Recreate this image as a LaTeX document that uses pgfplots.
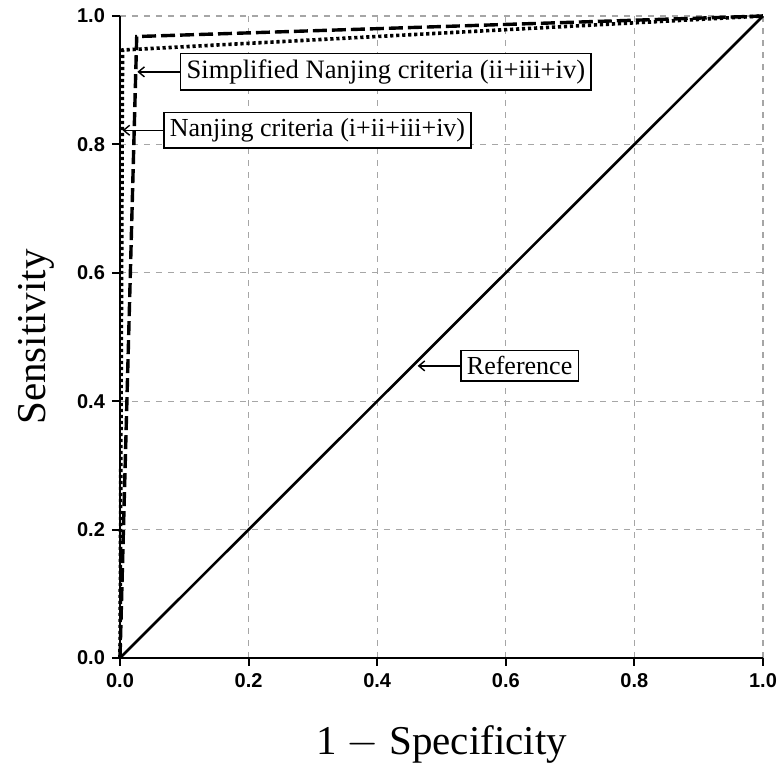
\documentclass[border=0pt]{standalone}
\usepackage{fontspec}
\setmainfont{Liberation Serif}
\newfontfamily\tickfont{Liberation Sans}
\usepackage{pgfplots}
\pgfplotsset{compat=1.18}
\usetikzlibrary{arrows.meta}

\begin{document}
\begin{tikzpicture}
\begin{axis}[
  scale only axis,
  width=321.5pt,
  height=321pt,
  xmin=0, xmax=1, ymin=0, ymax=1,
  axis lines=left,
  axis line style={-, line width=1pt},
  xtick={0,0.2,...,1}, ytick={0,0.2,...,1},
  tick align=outside,
  major tick length=4pt,
  tick style={line width=1pt, black},
  grid=major,
  grid style={gray!70, dashed, line width=0.6pt},
  /pgf/number format/.cd, fixed, fixed zerofill, precision=1, assume math mode=true,
  /pgfplots/.cd,
  tick label style={font=\tickfont\bfseries\fontsize{10}{12}\selectfont},
  xlabel={1 $-$ Specificity},
  ylabel={Sensitivity},
  label style={font=\fontsize{20.5}{24}\selectfont},
  xlabel style={at={(axis description cs:0.5,-0.135)}, anchor=center},
  ylabel style={at={(axis description cs:-0.13,0.5)}, anchor=center},
  clip=false,
]
% Reference diagonal
\addplot[black, line width=1.3pt] coordinates {(0,0) (1,1)};
% Nanjing criteria (i+ii+iii+iv)
\addplot[black, line width=1.8pt, dash pattern=on 1.6pt off 1.4pt] coordinates {(0,0) (0.004,0.947) (1,1)};
% Simplified Nanjing criteria (ii+iii+iv)
\addplot[black, line width=1.7pt, dash pattern=on 7pt off 2.5pt] coordinates {(0,0) (0.026,0.968) (1,1)};

\node[draw, line width=0.8pt, fill=white, anchor=west, inner sep=3pt, font=\fontsize{13.3}{15}\selectfont]
  (s) at (axis cs:0.093,0.913) {Simplified Nanjing criteria (ii+iii+iv)};
\draw[-{Straight Barb[length=3pt,width=5pt]}, line width=0.7pt] (s.west) -- (axis cs:0.027,0.913);
\node[draw, line width=0.8pt, fill=white, anchor=west, inner sep=3pt, font=\fontsize{13}{15}\selectfont]
  (n) at (axis cs:0.067,0.822) {Nanjing criteria (i+ii+iii+iv)};
\draw[-{Straight Barb[length=3pt,width=5pt]}, line width=0.7pt] (n.west) -- (axis cs:0.004,0.822);
\node[draw, line width=0.8pt, fill=white, anchor=west, inner sep=3pt, font=\fontsize{13}{15}\selectfont]
  (r) at (axis cs:0.529,0.455) {Reference};
\draw[-{Straight Barb[length=3pt,width=5pt]}, line width=0.7pt] (r.west) -- (axis cs:0.463,0.455);
% page margins as in the reference
\path (rel axis cs:0,0) ++(-60pt,-57pt);
\path (rel axis cs:1,1) ++(10.5pt,8pt);
\end{axis}
\end{tikzpicture}
\end{document}
